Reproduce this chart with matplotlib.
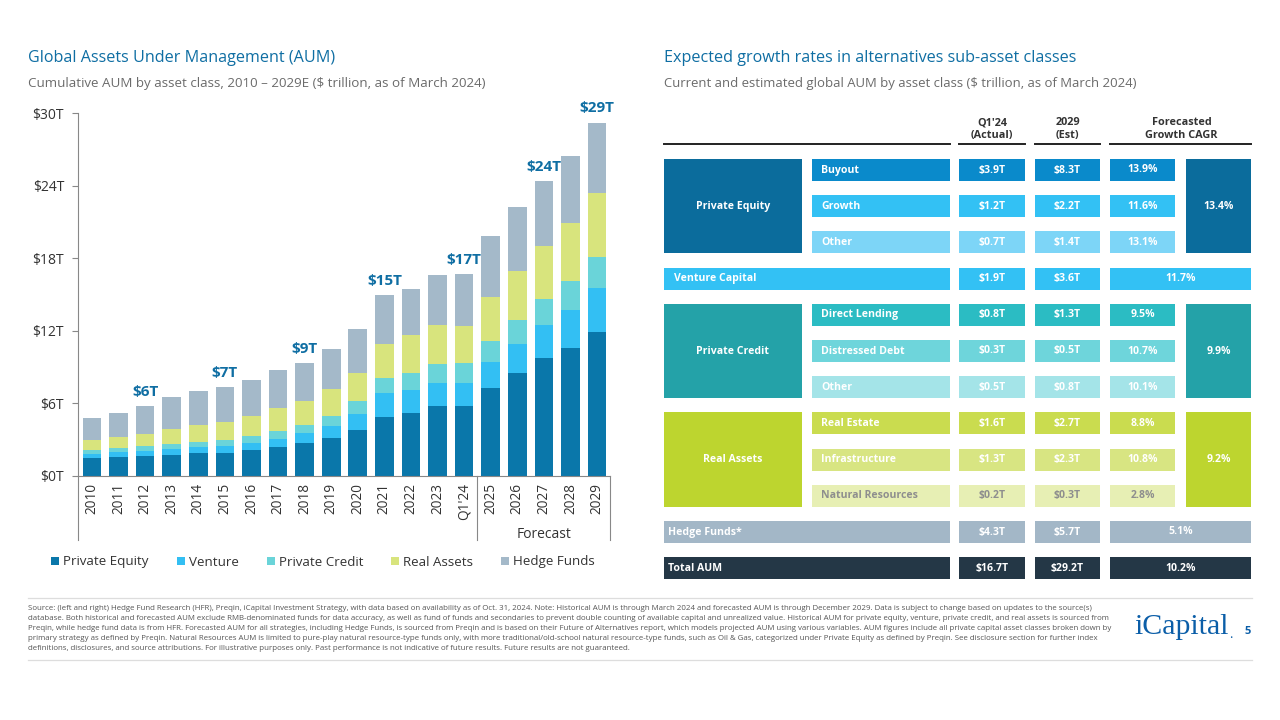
import matplotlib
matplotlib.use("Agg")
import matplotlib.pyplot as plt
from matplotlib.patches import Rectangle
import numpy as np

plt.rcParams['font.family'] = ['Open Sans', 'DejaVu Sans']

# ---- left chart data ($ trillion) ----
years = ["2010", "2011", "2012", "2013", "2014", "2015", "2016", "2017", "2018", "2019",
         "2020", "2021", "2022", "2023", "Q1'24", "2025", "2026", "2027", "2028", "2029"]
private_equity = [1.46, 1.57, 1.66, 1.77, 1.91, 1.93, 2.13, 2.40, 2.73, 3.12,
                  3.81, 4.86, 5.17, 5.80, 5.80, 7.29, 8.54, 9.75, 10.61, 11.90]
venture = [0.39, 0.39, 0.41, 0.44, 0.49, 0.58, 0.63, 0.69, 0.81, 1.02,
           1.33, 1.96, 1.93, 1.91, 1.90, 2.10, 2.37, 2.71, 3.09, 3.60]
private_credit = [0.33, 0.39, 0.39, 0.41, 0.45, 0.50, 0.58, 0.64, 0.71, 0.86,
                  1.08, 1.30, 1.41, 1.52, 1.60, 1.77, 1.96, 2.15, 2.39, 2.60]
real_assets = [0.78, 0.88, 1.05, 1.25, 1.35, 1.47, 1.60, 1.85, 1.97, 2.15,
               2.29, 2.82, 3.12, 3.28, 3.10, 3.67, 4.10, 4.43, 4.83, 5.30]
hedge_funds = [1.87, 1.99, 2.24, 2.62, 2.84, 2.87, 2.99, 3.18, 3.09, 3.35,
               3.62, 4.03, 3.81, 4.07, 4.30, 5.01, 5.25, 5.36, 5.55, 5.80]
series_names = ["Private Equity", "Venture", "Private Credit", "Real Assets", "Hedge Funds"]
series_colors = ["#0A77AA", "#33BFF3", "#6AD4D9", "#D8E47D", "#A4B9C9"]
label_years = ["2012", "2015", "2018", "2021", "Q1'24", "2027", "2029"]
label_texts = ["$6T", "$7T", "$9T", "$15T", "$17T", "$24T", "$29T"]
y_ticks = [0, 6, 12, 18, 24, 30]

# ---- right table data ----
sub_labels = ["Buyout", "Growth", "Other", "Direct Lending", "Distressed Debt", "Other",
              "Real Estate", "Infrastructure", "Natural Resources"]
sub_q1 = [3.9, 1.2, 0.7, 0.8, 0.3, 0.5, 1.6, 1.3, 0.2]
sub_2029 = [8.3, 2.2, 1.4, 1.3, 0.5, 0.8, 2.7, 2.3, 0.3]
sub_cagr = [13.9, 11.6, 13.1, 9.5, 10.7, 10.1, 8.8, 10.8, 2.8]
group_labels = ["Private Equity", "Private Credit", "Real Assets"]
group_cagr = [13.4, 9.9, 9.2]
single_labels = ["Venture Capital", "Hedge Funds*", "Total AUM"]
single_q1 = [1.9, 4.3, 16.7]
single_2029 = [3.6, 5.7, 29.2]
single_cagr = [11.7, 5.1, 10.2]

BLUE = "#0F6EA3"
GREY = "#6B6B6B"

fig = plt.figure(figsize=(12.8, 7.2), dpi=100)
fig.patch.set_facecolor("white")

# background axes in pixel coordinates for titles, table, footer
bg = fig.add_axes([0, 0, 1, 1])
bg.set_xlim(0, 1280)
bg.set_ylim(720, 0)
bg.axis("off")

# ---- stacked bars ----
ax = fig.add_axes([78 / 1280, 1 - 476 / 720, (610 - 78) / 1280, (476 - 113) / 720])
x = np.arange(len(years))
bottom = np.zeros(len(years))
handles = []
for vals, name, col in zip([private_equity, venture, private_credit, real_assets, hedge_funds],
                           series_names, series_colors):
    b = ax.bar(x, vals, 0.7, bottom=bottom, color=col, label=name, zorder=2)
    handles.append(b)
    bottom = bottom + np.array(vals)

for yr, txt in zip(label_years, label_texts):
    i = years.index(yr)
    ax.text(i, bottom[i] + 0.6, txt, ha="center", va="bottom", fontsize=11,
            fontweight="bold", color=BLUE)

ax.set_xlim(-0.527, 19.49)
ax.set_ylim(0, 30)
ax.set_yticks(y_ticks)
ax.set_yticklabels(["$%dT" % t for t in y_ticks])
ax.set_xticks(x)
ax.set_xticklabels(years, rotation=90)
ax.tick_params(axis="y", length=4, width=0.8, color="#888888", labelsize=10,
               labelcolor="#333333", pad=6)
ax.tick_params(axis="x", length=0, labelsize=9.8, labelcolor="#333333", pad=5)
for s in ["top", "right"]:
    ax.spines[s].set_visible(False)
for s in ["left", "bottom"]:
    ax.spines[s].set_color("#888888")
    ax.spines[s].set_linewidth(0.8)

tr = ax.get_xaxis_transform()
for xs in [-0.527, 14.5, 19.49]:
    ax.plot([xs, xs], [0, -0.177], transform=tr, color="#888888", lw=0.8, clip_on=False)
ax.text(17, -0.160, "Forecast", transform=tr, ha="center", va="center",
        fontsize=10, color="#333333")

fig.legend(handles=handles, labels=series_names, loc="center", ncol=5,
           bbox_to_anchor=(323 / 1280, 1 - 562 / 720), frameon=False,
           handlelength=0.6, handleheight=0.6, handletextpad=0.3,
           columnspacing=2.1, fontsize=9.6, labelcolor="#333333")

# ---- titles ----
bg.text(28, 58, "Global Assets Under Management (AUM)", fontsize=11.6, color=BLUE,
        va="center", ha="left")
bg.text(28, 83, "Cumulative AUM by asset class, 2010 \u2013 2029E ($ trillion, as of March 2024)",
        fontsize=9.6, color=GREY, va="center", ha="left")
bg.text(664, 58, "Expected growth rates in alternatives sub-asset classes", fontsize=11.6,
        color=BLUE, va="center", ha="left")
bg.text(664, 83, "Current and estimated global AUM by asset class ($ trillion, as of March 2024)",
        fontsize=9.45, color=GREY, va="center", ha="left")

# ---- table ----
col_grp = (664, 802)
col_lab = (812, 950)
col_q1 = (959, 1025)
col_est = (1035, 1100)
col_cg = (1110, 1175)
col_gcg = (1186, 1251)
row_top0 = 159
row_pitch = 36.2
row_h = 22

hdr_kw = dict(ha="center", va="center", fontsize=7.8, fontweight="bold", color="#333333",
              linespacing=1.15)
bg.text(sum(col_q1) / 2, 129, "Q1'24\n(Actual)", **hdr_kw)
bg.text(sum(col_est) / 2, 129, "2029\n(Est)", **hdr_kw)
bg.text(sum(col_cg + col_gcg) / 4 + 1, 129, "Forecasted\nGrowth CAGR", **hdr_kw)
for a, b in [(664, 950), col_q1, col_est, (1110, 1251)]:
    bg.plot([a, b], [144, 144], color="#222222", lw=1.4)

TFS = 7.6


def cell(x0, x1, top, h, color, text=None, tcolor="white", align="center"):
    bg.add_patch(Rectangle((x0, top), x1 - x0, h, facecolor=color, edgecolor="none"))
    if text is not None:
        if align == "center":
            bg.text((x0 + x1) / 2, top + h / 2, text, ha="center", va="center", fontsize=TFS,
                    fontweight="bold", color=tcolor)
        else:
            bg.text(x0 + 9, top + h / 2, text, ha="left", va="center", fontsize=TFS,
                    fontweight="bold", color=tcolor)


sub_colors = ["#0A8ACB", "#33C1F4", "#7DD5F7", "#2BBCC3", "#6ED5DB", "#A4E4E8",
              "#CADC4F", "#D8E582", "#E7EFB4"]
sub_rows = [0, 1, 2, 4, 5, 6, 7, 8, 9]
group_colors = ["#0B6C9C", "#24A2A8", "#BDD52F"]
group_rows = [0, 4, 7]

for k, r in enumerate(sub_rows):
    top = row_top0 + r * row_pitch
    tc = "#8E8E8E" if k == 8 else "white"
    c = sub_colors[k]
    cell(*col_lab, top, row_h, c, sub_labels[k], tc, align="left")
    cell(*col_q1, top, row_h, c, "$%.1fT" % sub_q1[k], tc)
    cell(*col_est, top, row_h, c, "$%.1fT" % sub_2029[k], tc)
    cell(*col_cg, top, row_h, c, "%.1f%%" % sub_cagr[k], tc)

for g, r in enumerate(group_rows):
    top = row_top0 + r * row_pitch
    h = 2 * row_pitch + row_h
    cell(*col_grp, top, h, group_colors[g], group_labels[g])
    cell(*col_gcg, top, h, group_colors[g], "%.1f%%" % group_cagr[g])

single_rows = [3, 10, 11]
single_colors = ["#33C1F4", "#A3B7C7", "#243746"]
for k, r in enumerate(single_rows):
    top = row_top0 + r * row_pitch
    c = single_colors[k]
    bg.add_patch(Rectangle((664, top), 950 - 664, row_h, facecolor=c, edgecolor="none"))
    bg.text(664 + (10 if k == 0 else 4), top + row_h / 2, single_labels[k], ha="left",
            va="center", fontsize=TFS, fontweight="bold", color="white")
    cell(*col_q1, top, row_h, c, "$%.1fT" % single_q1[k])
    cell(*col_est, top, row_h, c, "$%.1fT" % single_2029[k])
    cell(1110, 1251, top, row_h, c, "%.1f%%" % single_cagr[k])

# ---- footer ----
footer = [
    "Source: (left and right) Hedge Fund Research (HFR), Preqin, iCapital Investment Strategy, with data based on availability as of Oct. 31, 2024. Note: Historical AUM is through March 2024 and forecasted AUM is through December 2029. Data is subject to change based on updates to the source(s)",
    "database. Both historical and forecasted AUM exclude RMB-denominated funds for data accuracy, as well as fund of funds and secondaries to prevent double counting of available capital and unrealized value. Historical AUM for private equity, venture, private credit, and real assets is sourced from",
    "Preqin, while hedge fund data is from HFR. Forecasted AUM for all strategies, including Hedge Funds, is sourced from Preqin and is based on their Future of Alternatives report, which models projected AUM using various variables. AUM figures include all private capital asset classes broken down by",
    "primary strategy as defined by Preqin. Natural Resources AUM is limited to pure-play natural resource-type funds only, with more traditional/old-school natural resource-type funds, such as Oil & Gas, categorized under Private Equity as defined by Preqin. See disclosure section for further index",
    "definitions, disclosures, and source attributions. For illustrative purposes only. Past performance is not indicative of future results. Future results are not guaranteed.",
]
bg.plot([28, 1252], [598, 598], color="#DDDDDD", lw=0.9)
bg.plot([28, 1252], [660, 660], color="#DDDDDD", lw=0.9)
for i, line in enumerate(footer):
    bg.text(28, 609 + i * 9.8, line, fontsize=5.65, color="#555555", ha="left", va="center")

bg.text(1134, 627, "iCapital", family="Liberation Serif", fontsize=21.5, color="#0B5EA8",
        ha="left", va="center")
bg.text(1229, 634, ".", family="Liberation Serif", fontsize=10, color="#0B5EA8",
        ha="left", va="center")
bg.text(1248, 631, "5", fontsize=8, fontweight="bold", color="#0B5EA8", ha="center",
        va="center")

fig.savefig("out.png", dpi=100, facecolor="white")
